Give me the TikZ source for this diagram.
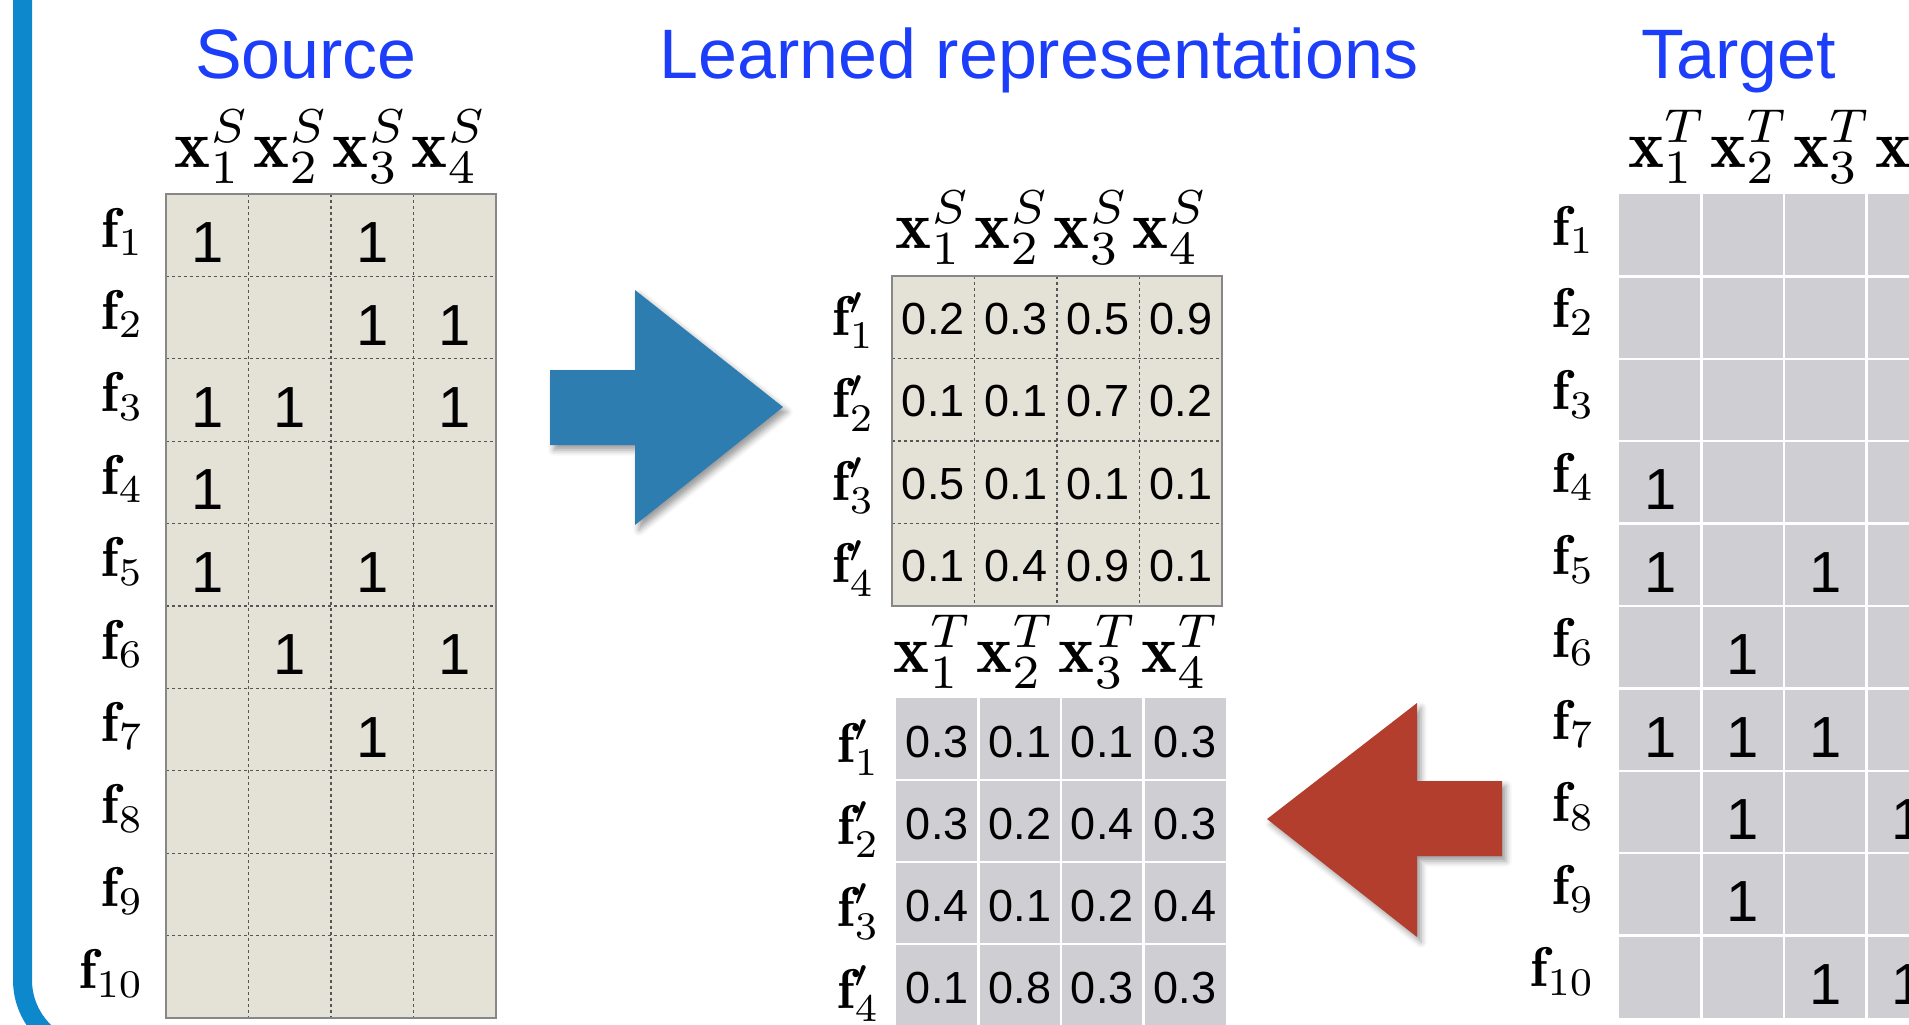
\RequirePackage{fix-cm}
\documentclass[tikz,border=0pt]{standalone}
\usepackage{graphicx}
\usepackage{fontspec}
\setsansfont{Liberation Sans}
\usetikzlibrary{shadows.blur}

\definecolor{titleblue}{RGB}{28,62,250}
\definecolor{barblue}{RGB}{14,136,204}
\definecolor{arrowblue}{RGB}{46,125,176}
\definecolor{arrowred}{RGB}{180,62,46}
\definecolor{srcfill}{RGB}{228,225,214}
\definecolor{tgtfill}{RGB}{206,206,211}
\definecolor{gridgray}{RGB}{135,135,135}
\definecolor{dotgray}{RGB}{85,85,85}

% math set at 10pt and enlarged, so sub- and superscripts keep their own designs
\newcommand\mlab[2]{\scalebox{#1}{$#2$}}
\newcommand\hdrrow[1]{\mlab{3.4}{\mathbf{x}_1^{#1}\mkern1mu\mathbf{x}_2^{#1}\mkern1mu\mathbf{x}_3^{#1}\mkern1mu\mathbf{x}_4^{#1}}}

\begin{document}
\begin{tikzpicture}[x=0.5pt,y=-0.5pt,
  every node/.style={inner sep=0pt, outer sep=0pt},
  title/.style={anchor=base, text=titleblue, font=\sffamily\fontsize{35}{40}\selectfont},
  hdr/.style={anchor=base},
  rowlab/.style={anchor=base east},
  bigdigit/.style={anchor=base, font=\sffamily\fontsize{29}{30}\selectfont},
  smalldigit/.style={anchor=base, font=\sffamily\fontsize{22.5}{24}\selectfont},
  dotline/.style={dotgray, line width=0.6pt, dash pattern=on 1.5pt off 1.5pt},
  whiteline/.style={white, line width=1.2pt},
  frameline/.style={gridgray, line width=0.8pt},
  arrowshadow/.style={blur shadow={shadow xshift=2pt, shadow yshift=-2.5pt,
      shadow blur radius=3pt, shadow opacity=40}}
]
\useasboundingbox (0,0) rectangle (1909,1024);
\clip (0,0) rectangle (1909,1024);

% left frame bar with its rounded corner
\draw[barblue, line width=9.5pt, rounded corners=36pt]
  (22.5,-40) -- (22.5,1052) -- (400,1052);

% titles
\node[title] (tsrc) at (306,78) {Source};
\node[title] (tlearn) at (1039,78) {Learned representations};
\node[title] (ttgt) at (1738.5,78) {Target};

% ---------- source matrix (10 x 4, binary) ----------
\fill[srcfill] (166,194) rectangle (496,1018);
\foreach \i in {1,2,3}
  \draw[dotline] ({166+82.5*\i},194) -- ({166+82.5*\i},1018);
\foreach \j in {1,...,9}
  \draw[dotline] (166,{194+82.4*\j}) -- (496,{194+82.4*\j});
\draw[frameline] (166,194) rectangle (496,1018);

\node[hdr] (sh) at (331,167) {\hdrrow{S}};
\foreach \r in {1,...,10}
  \node[rowlab] (sf\r) at (144,{247+82.4*(\r-1)}) {\mlab{2.8}{\mathbf{f}_{\r}}};
\foreach \c/\r in {1/1,3/1,3/2,4/2,1/3,2/3,4/3,1/4,1/5,3/5,2/6,4/6,3/7}
  \node[bigdigit] (sv\r-\c) at ({166+82.5*(\c-0.5)},{194+82.4*(\r-0.5)+27.5}) {1};

% ---------- target matrix (10 x 4, binary) ----------
\fill[tgtfill] (1619,194) rectangle (1949,1018);
\foreach \i in {1,2,3}
  \draw[whiteline] ({1619+82.5*\i},194) -- ({1619+82.5*\i},1018);
\foreach \j in {1,...,9}
  \draw[whiteline] (1619,{194+82.4*\j}) -- (1949,{194+82.4*\j});

\node[hdr, anchor=base west] (th) at (1628,167) {\hdrrow{T}};
\foreach \r in {1,...,10}
  \node[rowlab] (tf\r) at (1595,{245+82.4*(\r-1)}) {\mlab{2.8}{\mathbf{f}_{\r}}};
\foreach \c/\r in {1/4,1/5,3/5,2/6,1/7,2/7,3/7,2/8,4/8,2/9,3/10,4/10}
  \node[bigdigit] (tv\r-\c) at ({1619+82.5*(\c-0.5)},{194+82.4*(\r-0.5)+27.5}) {1};

% ---------- learned source representation (4 x 4) ----------
\fill[srcfill] (892,276) rectangle (1222,606);
\foreach \i in {1,2,3} {
  \draw[dotline] ({892+82.5*\i},276) -- ({892+82.5*\i},606);
  \draw[dotline] (892,{276+82.5*\i}) -- (1222,{276+82.5*\i});
}
\draw[frameline] (892,276) rectangle (1222,606);

\node[hdr] (lsh) at (1052,248) {\hdrrow{S}};
\foreach \r in {1,...,4}
  \node[rowlab] (lsf\r) at (875,{335+82.5*(\r-1)}) {\mlab{2.8}{\mathbf{f}^{\prime}_{\r}}};
\foreach \r/\vals in {1/{0.2,0.3,0.5,0.9},2/{0.1,0.1,0.7,0.2},3/{0.5,0.1,0.1,0.1},4/{0.1,0.4,0.9,0.1}}
  \foreach \v [count=\c] in \vals
    \node[smalldigit] (lsv\r-\c) at ({892+82.5*(\c-0.5)},{276+82.5*(\r-0.5)+17}) {\v};

% ---------- learned target representation (4 x 4) ----------
\fill[tgtfill] (896,698) rectangle (1226,1028);
\foreach \i in {1,2,3} {
  \draw[whiteline] ({896+82.5*\i},698) -- ({896+82.5*\i},1028);
  \draw[whiteline] (896,{698+82*\i}) -- (1226,{698+82*\i});
}

\node[hdr] (lth) at (1057,672) {\hdrrow{T}};
\foreach \r in {1,...,4}
  \node[rowlab] (ltf\r) at (880,{762+82*(\r-1)}) {\mlab{2.8}{\mathbf{f}^{\prime}_{\r}}};
\foreach \r/\vals in {1/{0.3,0.1,0.1,0.3},2/{0.3,0.2,0.4,0.3},3/{0.4,0.1,0.2,0.4},4/{0.1,0.8,0.3,0.3}}
  \foreach \v [count=\c] in \vals
    \node[smalldigit] (ltv\r-\c) at ({896+82.5*(\c-0.5)},{698+82*(\r-0.5)+18}) {\v};

% ---------- block arrows ----------
\fill[arrowblue, arrowshadow]
  (550,370) -- (635,370) -- (635,290) -- (783,407) -- (635,525) -- (635,445) -- (550,445) -- cycle;
\fill[arrowred, arrowshadow]
  (1502,781) -- (1417,781) -- (1417,703) -- (1267,819) -- (1417,937) -- (1417,856) -- (1502,856) -- cycle;
\end{tikzpicture}
\end{document}
